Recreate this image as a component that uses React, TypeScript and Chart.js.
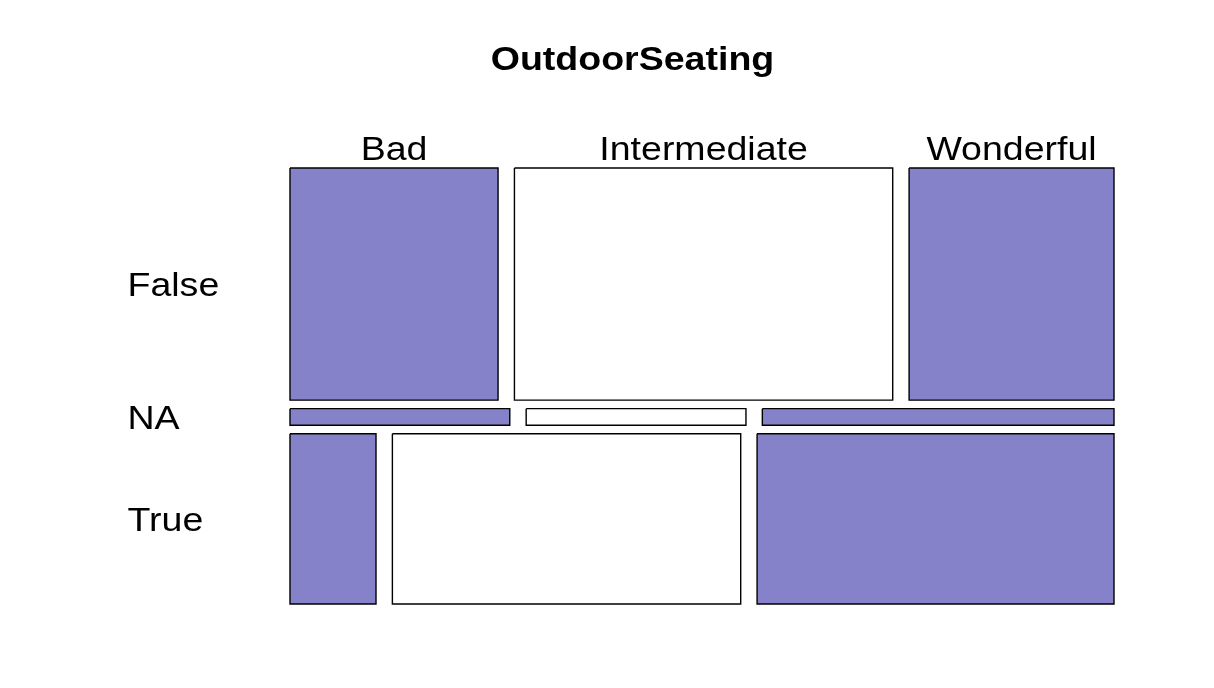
import React, { useEffect, useRef } from "react";
import { Chart, registerables } from "chart.js";

Chart.register(...registerables);

// ---- data ----
const TITLE = "OutdoorSeating";
const rowLabels = ["False", "NA", "True"];
const colLabels = ["Bad", "Intermediate", "Wonderful"];
const countsFalse = [66, 120, 65];
const countsNA = [5, 5, 8];
const countsTrue = [20, 81, 83];
const colColors = ["#8682C9", "#FFFFFF", "#8682C9"];

const rowsCounts = [countsFalse, countsNA, countsTrue];

// ---- layout constants ----
const GAP_X = 0.0207;
const GAP_Y = 0.0203;
const FONT_FAMILY = '"Liberation Sans", Arial, Helvetica, sans-serif';
const FONT_SIZE = 33.5;
const TEXT_SX = 1.12;

const sum = (a: number[]) => a.reduce((s, v) => s + v, 0);

function buildCells() {
  const total = sum(rowsCounts.map(sum));
  const cells: any[] = [];
  let yCum = 0;
  rowsCounts.forEach((row, i) => {
    const rowTot = sum(row);
    const h = rowTot / total;
    const y0 = yCum + i * GAP_Y;
    const y1 = y0 + h;
    let xCum = 0;
    row.forEach((v, j) => {
      const w = v / rowTot;
      const x0 = xCum + j * GAP_X;
      const x1 = x0 + w;
      cells.push({ row: i, col: j, x0, x1, y0, y1 });
      xCum += w;
    });
    yCum += h;
  });
  return cells;
}

function drawText(ctx: CanvasRenderingContext2D, text: string, x: number, y: number, font: string, align: CanvasTextAlign) {
  ctx.save();
  ctx.translate(x, y);
  ctx.scale(TEXT_SX, 1);
  ctx.font = font;
  ctx.textAlign = align;
  ctx.textBaseline = "alphabetic";
  ctx.fillStyle = "#000000";
  ctx.fillText(text, 0, 0);
  ctx.restore();
}

export default function App() {
  const ref = useRef<HTMLCanvasElement | null>(null);

  useEffect(() => {
    if (!ref.current) return;
    const cells = buildCells();

    const datasets = cells.map((c) => ({
      label: `${rowLabels[c.row]} / ${colLabels[c.col]}`,
      data: [
        { x: c.x0, y: c.y0 },
        { x: c.x1, y: c.y0 },
        { x: c.x1, y: c.y1 },
        { x: c.x0, y: c.y1 },
        { x: c.x0, y: c.y0 },
      ],
      borderColor: "#000000",
      borderWidth: 1.4,
      backgroundColor: colColors[c.col],
      fill: "shape",
      pointRadius: 0,
      tension: 0,
      clip: 5,
    }));

    const labelsPlugin = {
      id: "mosaicLabels",
      afterDraw(chart: any) {
        const { ctx, chartArea } = chart;
        const xs = chart.scales.x;
        const ys = chart.scales.y;
        // title
        drawText(ctx, TITLE, 632.5, 69.5, `bold ${FONT_SIZE}px ${FONT_FAMILY}`, "center");
        // column labels (centered over first row cells)
        cells
          .filter((c) => c.row === 0)
          .forEach((c) => {
            const cx = xs.getPixelForValue((c.x0 + c.x1) / 2);
            drawText(ctx, colLabels[c.col], cx, chartArea.top - 8, `${FONT_SIZE}px ${FONT_FAMILY}`, "center");
          });
        // row labels
        rowLabels.forEach((lab, i) => {
          const rc = cells.find((c) => c.row === i);
          const cy = ys.getPixelForValue((rc.y0 + rc.y1) / 2);
          drawText(ctx, lab, 127.5, cy + 12, `${FONT_SIZE}px ${FONT_FAMILY}`, "left");
        });
      },
    };

    const chart = new Chart(ref.current, {
      type: "line",
      data: { datasets } as any,
      options: {
        animation: false,
        responsive: false,
        devicePixelRatio: 1,
        events: [],
        layout: { padding: { left: 290, right: 100, top: 168, bottom: 84 } },
        plugins: {
          legend: { display: false },
          title: { display: false },
          tooltip: { enabled: false },
        },
        scales: {
          x: { type: "linear", min: 0, max: 1 + 2 * GAP_X, display: false },
          y: { type: "linear", min: 0, max: 1 + 2 * GAP_Y, reverse: true, display: false },
        },
      } as any,
      plugins: [labelsPlugin],
    });
    return () => chart.destroy();
  }, []);

  return (
    <div style={{ position: "absolute", left: 0, top: 0, width: 1214, height: 688, background: "#ffffff" }}>
      <canvas ref={ref} width={1214} height={688} />
    </div>
  );
}
